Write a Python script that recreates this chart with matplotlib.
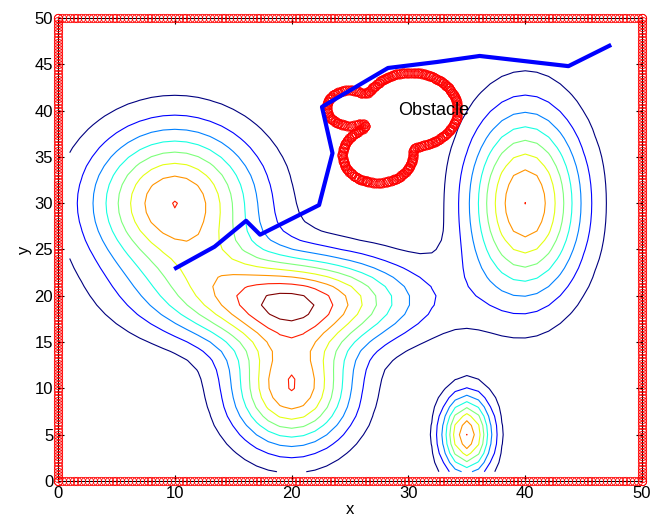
import numpy as np
import matplotlib.pyplot as plt
import contourpy

plt.rcParams['font.family'] = ['Liberation Sans', 'DejaVu Sans']

# --- potential field: gaussian bumps (centre x, centre y, height, sigma x, sigma y) ---
peak_x = [10, 20, 20, 40, 35, 13]
peak_y = [30, 19.5, 10, 30, 5, 24]
peak_h = [7.99, 8.4, 7.9, 8.005, 8.01, 0.6]
peak_sx = [5.0, 7.0, 3.6, 3.4, 1.5, 2.5]
peak_sy = [5.7, 3.4, 4.5, 7.0, 3.0, 2.5]
levels = [1, 2, 3, 4, 5, 6, 7, 8, 9]

# --- obstacle: smooth union of three discs (centre x, centre y, radius) ---
obs_x = [24.9, 30.2, 27.35]
obs_y = [40.3, 40.1, 35.2]
obs_r = [1.9, 4.0, 3.0]
blend = 3.0

# --- planned path ---
path_x = [10.1, 13.4, 16.1, 17.3, 22.35, 23.5, 22.6, 28.25, 32.45, 36.1, 43.7, 47.2]
path_y = [23.0, 25.3, 28.1, 26.6, 29.8, 35.4, 40.4, 44.6, 45.25, 45.9, 44.8, 47.0]

# field on the 1..50 grid
gx, gy = np.meshgrid(np.arange(1, 51), np.arange(1, 51))
Z = np.zeros_like(gx, dtype=float)
for cx, cy, h, sx, sy in zip(peak_x, peak_y, peak_h, peak_sx, peak_sy):
    Z += h * np.exp(-(gx - cx)**2 / (2 * sx**2) - (gy - cy)**2 / (2 * sy**2))

# obstacle outline points
ox, oy = np.meshgrid(np.arange(18, 40, 0.15), np.arange(28, 50, 0.15))
F = np.zeros_like(ox)
for cx, cy, r in zip(obs_x, obs_y, obs_r):
    F += np.exp(-blend * (np.hypot(ox - cx, oy - cy) - r))
obs_lines = contourpy.contour_generator(ox, oy, F).lines(1.0)

# border of the workspace
edge = np.linspace(0, 50, 151)
bx = np.concatenate([edge, np.full_like(edge, 50), edge[::-1], np.zeros_like(edge)])
by = np.concatenate([np.zeros_like(edge), edge, np.full_like(edge, 50), edge[::-1]])

fig = plt.figure(figsize=(6.54, 5.23), dpi=100)
ax = fig.add_axes([0.0887, 0.0803, 0.8930, 0.8853])

colors = plt.cm.jet(np.linspace(0, 1, len(levels)))
ax.contour(gx, gy, Z, levels=levels, colors=colors, linewidths=0.8)

ax.plot(bx, by, 'o', mec='red', mfc='none', ms=6, mew=0.6, clip_on=False, zorder=4)
for ln in obs_lines:
    ax.plot(ln[:, 0], ln[:, 1], 'o', mec='red', mfc='none', ms=6.5, mew=0.6, zorder=4)

ax.plot(path_x, path_y, '-', color='blue', lw=3, zorder=5)
ax.text(29.1, 40.0, 'Obstacle', fontsize=13, ha='left', va='center', zorder=6)

ax.set_xlim(0, 50)
ax.set_ylim(0, 50)
ax.set_xticks(range(0, 51, 10))
ax.set_yticks(range(0, 51, 5))
ax.tick_params(direction='in', top=True, right=True, labelsize=12, length=4)
ax.set_xlabel('x', fontsize=12, labelpad=1)
ax.set_ylabel('y', fontsize=12, labelpad=2)

fig.savefig('out.png', dpi=100)
